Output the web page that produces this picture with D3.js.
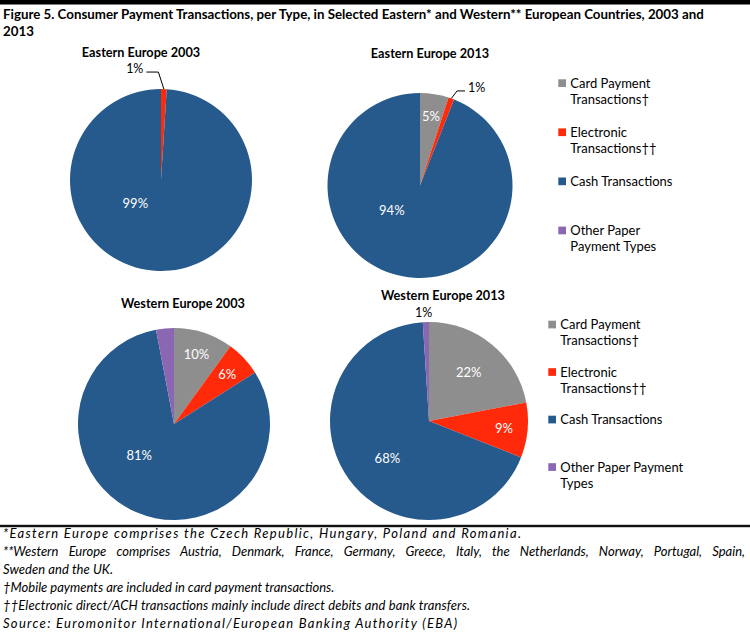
<!DOCTYPE html>
<html><head><meta charset="utf-8">
<script src="https://cdn.jsdelivr.net/npm/d3@7"></script>
<style>
body{margin:0;background:#fff}
svg{display:block}
text{font-family:Lato,"Open Sans",sans-serif}
</style>
</head><body>
<svg id="c" width="750" height="642"></svg>
<script>
// ---------- data ----------
const categories = ["Card Payment Transactions†", "Electronic Transactions††", "Cash Transactions", "Other Paper Payment Types"];
const colors = ["#8E8E8E", "#FF2A0A", "#265A8C", "#8A66B3"];
const chartTitles = ["Eastern Europe 2003", "Eastern Europe 2013", "Western Europe 2003", "Western Europe 2013"];
const ee2003 = [0, 1, 99, 0];
const ee2013 = [5, 1, 94, 0];
const we2003 = [10, 6, 81, 3];
const we2013 = [22, 9, 68, 1];
const hiddenLabels = [[], [], [3], []];
const legendLabelsTop = [["Card Payment", "Transactions†"], ["Electronic", "Transactions††"], ["Cash Transactions"], ["Other Paper", "Payment Types"]];
const legendLabelsBottom = [["Card Payment", "Transactions†"], ["Electronic", "Transactions††"], ["Cash Transactions"], ["Other Paper Payment", "Types"]];
const titleLines = ["Figure 5. Consumer Payment Transactions, per Type, in Selected Eastern* and Western** European Countries, 2003 and", "2013"];
const footnotes = [
  "*Eastern Europe comprises the Czech Republic, Hungary, Poland and Romania.",
  "**Western Europe comprises Austria, Denmark, France, Germany, Greece, Italy, the Netherlands, Norway, Portugal, Spain,",
  "Sweden and the UK.",
  "†Mobile payments are included in card payment transactions.",
  "††Electronic direct/ACH transactions mainly include direct debits and bank transfers.",
  "Source: Euromonitor International/European Banking Authority (EBA)"
];
const seriesValues = [ee2003, ee2013, we2003, we2013];

// ---------- layout ----------
const svg = d3.select("#c");
const panels = [
  {cx: 161, cy: 180, r: 91, tx: 141, ty: 57, leader: {side: "left", elbowR: 17, dx: -6, len: 12}},
  {cx: 420, cy: 185.5, r: 92.5, tx: 430, ty: 58, leader: {side: "right", elbowR: 8, dx: 3, len: 8}},
  {cx: 174, cy: 424, r: 96, tx: 183, ty: 308, leader: null},
  {cx: 429, cy: 421, r: 99, tx: 443, ty: 300, leader: {side: "none", elbowR: 9}}
];
const footnoteRight = [521, 745, 113, 330, 470, 457];

// frame lines
svg.append("rect").attr("x", 0).attr("y", 0).attr("width", 750).attr("height", 4.5).attr("fill", "#000");
svg.append("rect").attr("x", 0).attr("y", 524.5).attr("width", 750).attr("height", 3).attr("fill", "#9a9a9a");
svg.append("rect").attr("x", 0).attr("y", 525).attr("width", 750).attr("height", 2).attr("fill", "#111");

// title
svg.selectAll("text.title").data(titleLines).join("text")
  .attr("class", "title")
  .attr("x", 3).attr("y", (d, i) => 19 + i * 16.5)
  .attr("font-size", 13.3).attr("font-weight", "bold").attr("fill", "#000")
  .text(d => d);

const color = d3.scaleOrdinal().domain(categories).range(colors);
const pie = d3.pie().sort(null).value(d => d.v);
const ang = a => [Math.sin(a), -Math.cos(a)];

seriesValues.forEach((vals, pi) => {
  const P = panels[pi];
  const g = svg.append("g").attr("transform", `translate(${P.cx},${P.cy})`);
  const data = vals.map((v, i) => ({v, cat: categories[i], i}));
  const arcs = pie(data);
  const arc = d3.arc().innerRadius(0).outerRadius(P.r);
  g.selectAll("path").data(arcs.filter(a => a.data.v > 0)).join("path")
    .attr("d", arc).attr("fill", d => color(d.data.cat));

  svg.append("text").attr("x", P.tx).attr("y", P.ty).attr("text-anchor", "middle")
    .attr("font-size", 12.7).attr("font-weight", "bold").attr("fill", "#000").text(chartTitles[pi]);

  const total = d3.sum(vals);
  arcs.forEach(a => {
    if (a.data.v <= 0 || hiddenLabels[pi].includes(a.data.i)) return;
    const p = a.data.v / total;
    const mid = (a.startAngle + a.endAngle) / 2;
    const label = Math.round(p * 100) + "%";
    if (p < 0.02) {
      const L = P.leader;
      const [sx, sy] = ang(mid);
      if (L.side === "none") {
        g.append("text").attr("x", sx * (P.r + L.elbowR) - 2).attr("y", sy * (P.r + L.elbowR) + 4)
          .attr("text-anchor", "middle").attr("font-size", 12.5).attr("fill", "#000").text(label);
        return;
      }
      const start = [sx * P.r, sy * P.r];
      const elbow = [sx * (P.r + L.elbowR) + L.dx, sy * (P.r + L.elbowR)];
      const dir = L.side === "left" ? -1 : 1;
      const end = [elbow[0] + dir * L.len, elbow[1]];
      g.append("path").attr("d", d3.line()([start, elbow, end]))
        .attr("fill", "none").attr("stroke", "#000").attr("stroke-width", 1);
      g.append("text").attr("x", end[0] + dir * 3).attr("y", end[1] + 1)
        .attr("text-anchor", dir < 0 ? "end" : "start").attr("font-size", 12.5).attr("fill", "#000").text(label);
    } else {
      let x, y;
      if (p > 0.5) {
        const f = 0.38 + (0.99 - p) * 0.6;
        const [ux, uy] = ang(228 * Math.PI / 180);
        x = ux * P.r * f; y = uy * P.r * f;
      } else {
        const f = p > 0.15 ? 0.63 : 0.76;
        const [ux, uy] = ang(mid);
        x = ux * P.r * f; y = uy * P.r * f;
      }
      g.append("text").attr("x", x).attr("y", y + 4.5).attr("text-anchor", "middle")
        .attr("font-size", 13).attr("fill", "#fff").text(label);
    }
  });
});

// legends
function legend(items, x0, y0, step) {
  items.forEach((lines, i) => {
    const y = y0 + i * step;
    svg.append("rect").attr("x", x0).attr("y", y).attr("width", 7.7).attr("height", 7.7)
      .attr("fill", color(categories[i]));
    lines.forEach((t, j) => {
      svg.append("text").attr("x", x0 + 12).attr("y", y + 8.7 + j * 16)
        .attr("font-size", 13).attr("fill", "#000").text(t);
    });
  });
}
legend(legendLabelsTop, 558.3, 79.3, 49.1);
legend(legendLabelsBottom, 548.3, 320.7, 47.5);

// footnotes
svg.selectAll("text.fn").data(footnotes).join("text")
  .attr("class", "fn")
  .attr("x", 3).attr("y", (d, i) => 538 + i * 18)
  .attr("font-size", 13).attr("font-style", "italic").attr("fill", "#000")
  .text(d => d)
  .each(function(d, i) {
    const w = this.getComputedTextLength();
    const target = footnoteRight[i] - 3;
    if (i === 1) {
      const spaces = d.split(" ").length - 1;
      if (w < target) d3.select(this).attr("word-spacing", (target - w) / spaces);
    } else if (w < target) {
      d3.select(this).attr("textLength", target).attr("lengthAdjust", "spacing");
    }
  });
</script>
</body></html>
